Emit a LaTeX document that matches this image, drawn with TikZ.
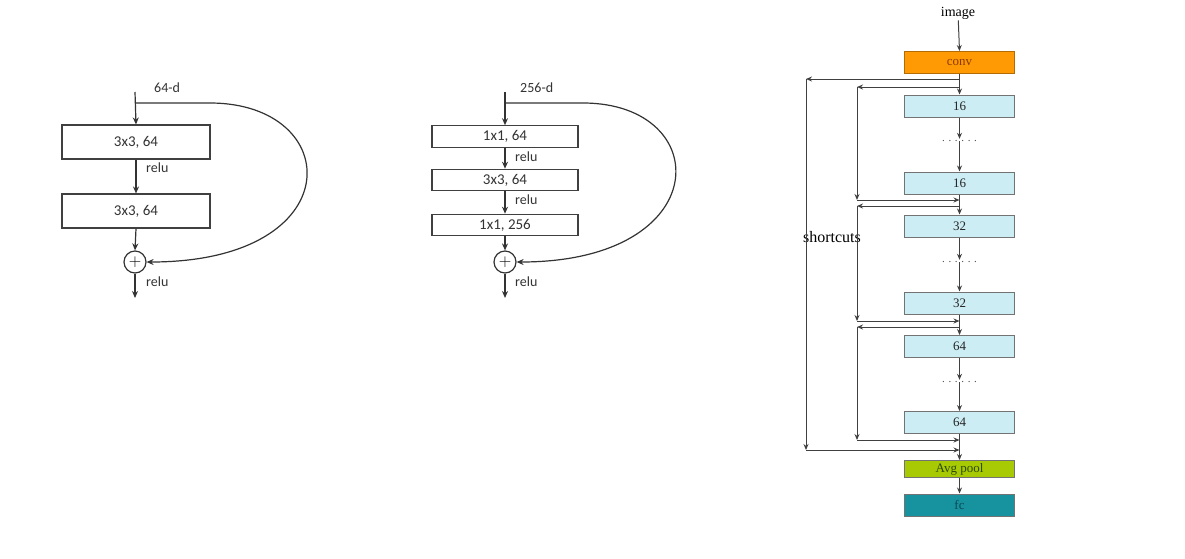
\documentclass[tikz,border=0pt]{standalone}
\usepackage{fontspec}
\setmainfont{Liberation Serif}
\newfontfamily\calib{Carlito}
\usepackage{xcolor}
\usetikzlibrary{arrows.meta,calc}

\definecolor{convorange}{HTML}{FF9A05}
\definecolor{convtext}{HTML}{8A3A00}
\definecolor{layerblue}{HTML}{CDEDF4}
\definecolor{poolgreen}{HTML}{A8CA05}
\definecolor{pooltext}{HTML}{2E4A00}
\definecolor{fcteal}{HTML}{17929F}
\definecolor{fctext}{HTML}{0B4A55}

\begin{document}
\begin{tikzpicture}[x=1pt, y=-1pt,
  every node/.style={inner sep=1pt},
  blk/.style={draw=black!75, line width=1.1pt, minimum width=148pt, minimum height=34pt, font=\calib\fontsize{15}{17}\selectfont, text=black!80},
  thinblk/.style={blk, minimum width=146pt, minimum height=21.5pt},
  sumc/.style={draw=black!80, line width=1.2pt, circle, minimum size=22pt, inner sep=0pt, font=\fontsize{16}{16}\selectfont},
  lab/.style={font=\calib\fontsize{14}{16}\selectfont, text=black!80},
  arr/.style={-{Stealth[length=7pt,width=6pt]}, line width=1.2pt, draw=black!80},
  layer/.style={draw=black!55, line width=1pt, fill=layerblue, minimum width=110pt, minimum height=22pt, font=\fontsize{13}{15}\selectfont, text=black!85},
  dotrow/.style={font=\fontsize{11}{11}\selectfont, text=black!70, inner sep=0pt, text height=2pt, text depth=0pt},
  sarr/.style={-{Stealth[length=6pt,width=5pt]}, line width=1pt, draw=black!75},
]
\useasboundingbox (0,0) rectangle (1185,558);

% basic block
\coordinate (Ltop) at (135,92);
\coordinate (Lsplit) at (135,103);
\node[lab, anchor=west] (Ld) at (153,88) {64-d};
\node[blk] (L1) at (136,142) {3x3, 64};
\node[blk] (L2) at (136,211) {3x3, 64};
\node[sumc] (Ls) at (135,262) {$+$};
\coordinate (Lout) at (135,298);
\node[lab, anchor=west] (Lr1) at (145,168) {relu};
\node[lab, anchor=west] (Lr2) at (145,282) {relu};
\draw[arr] (Ltop) -- (L1.north);
\draw[arr] (L1.south) -- (L2.north);
\draw[arr] (L2.south) -- (Ls.north);
\draw[arr] (Ls.south) -- (Lout);
\draw[arr] (Lsplit) -- ++(75,0) .. controls +(135,0) and +(205,0) .. (Ls.east);

% bottleneck block
\coordinate (Mtop) at (505,92);
\coordinate (Msplit) at (505,103);
\node[lab, anchor=west] (Md) at (519,88) {256-d};
\node[thinblk] (M1) at (505,136.5) {1x1, 64};
\node[thinblk] (M2) at (505,180) {3x3, 64};
\node[thinblk] (M3) at (505,225) {1x1, 256};
\node[sumc] (Ms) at (505,262) {$+$};
\coordinate (Mout) at (505,298);
\node[lab, anchor=west] (Mr1) at (514,157) {relu};
\node[lab, anchor=west] (Mr2) at (514,200) {relu};
\node[lab, anchor=west] (Mr3) at (514,282) {relu};
\draw[arr] (Mtop) -- (M1.north);
\draw[arr] (M1.south) -- (M2.north);
\draw[arr] (M2.south) -- (M3.north);
\draw[arr] (M3.south) -- (Ms.north);
\draw[arr] (Ms.south) -- (Mout);
\draw[arr] (Msplit) -- ++(78,0) .. controls +(132,0) and +(200,0) .. (Ms.east);

% resnet stack
\node[font=\fontsize{14}{16}\selectfont] (img) at (958,13) {image};
\node[layer, fill=convorange, draw=convorange!70!black, text=convtext] (conv) at (959.5,62.5) {conv};
\node[layer] (c16a) at (959.5,106) {16};
\node[dotrow] (d1) at (959.5,140) {. . . . . .};
\node[layer] (c16b) at (959.5,183) {16};
\node[layer] (c32a) at (959.5,226) {32};
\node[dotrow] (d2) at (959.5,261) {. . . . . .};
\node[layer] (c32b) at (959.5,303) {32};
\node[layer] (c64a) at (959.5,346.5) {64};
\node[dotrow] (d3) at (959.5,381) {. . . . . .};
\node[layer] (c64b) at (959.5,422.5) {64};
\node[layer, fill=poolgreen, minimum height=17pt, text=pooltext] (pool) at (959.5,469) {Avg pool};
\node[layer, fill=fcteal, text=fctext] (fc) at (959.5,505) {fc};
\node[font=\fontsize{16}{18}\selectfont] (sc) at (832,237) {shortcuts};

\draw[sarr] (img) -- (conv.north);
\draw[sarr] (conv.south) -- (c16a.north);
\draw[sarr] (c16a.south) -- (d1.north);
\draw[sarr] (d1.south) -- (c16b.north);
\draw[sarr] (c16b.south) -- (c32a.north);
\draw[sarr] (c32a.south) -- (d2.north);
\draw[sarr] (d2.south) -- (c32b.north);
\draw[sarr] (c32b.south) -- (c64a.north);
\draw[sarr] (c64a.south) -- (d3.north);
\draw[sarr] (d3.south) -- (c64b.north);
\draw[sarr] (c64b.south) -- (pool.north);
\draw[sarr] (pool.south) -- (fc.north);

% outer shortcut
\coordinate (o1) at (959.5,79);
\coordinate (o2) at (806,79);
\coordinate (o3) at (806,450);
\coordinate (o4) at (959.5,450);
\draw[sarr] (o1) -- (o2);
\draw[sarr] (o2) -- (o3);
\draw[sarr] (o3) -- (o4);

% stage shortcuts
\coordinate (a1) at (959.5,87);
\coordinate (a2) at (857,87);
\coordinate (a3) at (857,200);
\coordinate (a4) at (959.5,200);
\draw[sarr] (a1) -- (a2);
\draw[sarr] (a2) -- (a3);
\draw[sarr] (a3) -- (a4);
\coordinate (b1) at (959.5,206);
\coordinate (b2) at (857,206);
\coordinate (b3) at (857,321);
\coordinate (b4) at (959.5,321);
\draw[sarr] (b1) -- (b2);
\draw[sarr] (b2) -- (b3);
\draw[sarr] (b3) -- (b4);
\coordinate (e1) at (959.5,327);
\coordinate (e2) at (857,327);
\coordinate (e3) at (857,440);
\coordinate (e4) at (959.5,440);
\draw[sarr] (e1) -- (e2);
\draw[sarr] (e2) -- (e3);
\draw[sarr] (e3) -- (e4);
\end{tikzpicture}
\end{document}
